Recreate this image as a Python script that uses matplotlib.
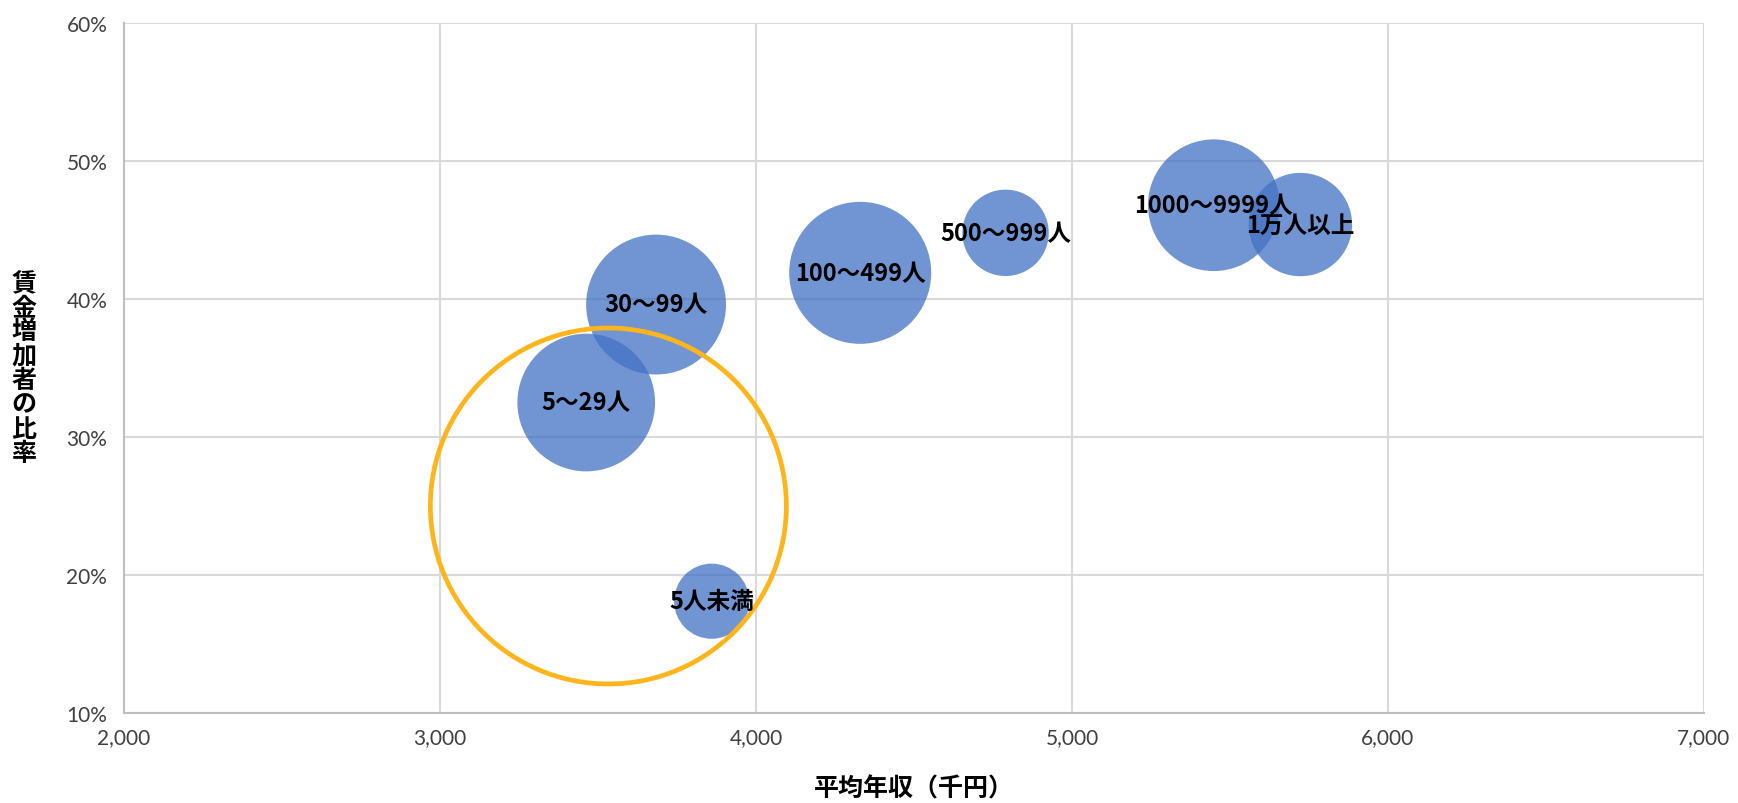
import matplotlib.pyplot as plt
import numpy as np
from matplotlib.patches import Ellipse
from matplotlib.ticker import FuncFormatter

plt.rcParams['font.family'] = ['Noto Sans CJK JP', 'DejaVu Sans']

DPI = 100

# 事業所規模別：平均年収と賃金増加者の比率
LABELS = ['5人未満', '5～29人', '30～99人', '100～499人',
          '500～999人', '1000～9999人', '1万人以上']
INCOME = [3860, 3463, 3684, 4330, 4790, 5449, 5723]      # 千円
RATIO = [18.1, 32.5, 39.6, 41.9, 44.8, 46.8, 45.4]       # %
BUBBLE = [28, 94, 97, 100, 37, 86, 53]                   # バブルの大きさ

XTICKS = [2000, 3000, 4000, 5000, 6000, 7000]
YTICKS = [10, 20, 30, 40, 50, 60]

# 小規模事業所を囲む円
HL_CENTER = (3533, 25.0)
HL_RADIUS_PX = 178

BLUE = '#4472C4'
ORANGE = '#FDB51B'
MAX_R_PX = 71

fig = plt.figure(figsize=(1738 / DPI, 804 / DPI), dpi=DPI)
fig.subplots_adjust(left=0.0713, right=0.9804, top=0.970, bottom=0.112)
ax = fig.add_subplot(111)

ax.set_xlim(XTICKS[0], XTICKS[-1])
ax.set_ylim(YTICKS[0], YTICKS[-1])

r_px = MAX_R_PX * np.sqrt(np.array(BUBBLE) / max(BUBBLE))
sizes = (2 * r_px * 72 / DPI) ** 2
ax.scatter(INCOME, RATIO, s=sizes, color=BLUE, alpha=0.76,
           edgecolors='none', zorder=3)

for x, y, lab in zip(INCOME, RATIO, LABELS):
    ax.text(x, y, lab, ha='center', va='center', fontsize=17,
            fontweight='bold', color='black', zorder=5)

# ピクセル単位の半径をデータ座標に換算して円を描く
ax_w = fig.get_figwidth() * DPI * (0.9804 - 0.0713)
ax_h = fig.get_figheight() * DPI * (0.970 - 0.112)
w = 2 * HL_RADIUS_PX * (XTICKS[-1] - XTICKS[0]) / ax_w
h = 2 * HL_RADIUS_PX * (YTICKS[-1] - YTICKS[0]) / ax_h
ax.add_patch(Ellipse(HL_CENTER, w, h, fill=False, edgecolor=ORANGE,
                     linewidth=3.4, zorder=4))

ax.set_xticks(XTICKS)
ax.set_yticks(YTICKS)
ax.xaxis.set_major_formatter(FuncFormatter(lambda v, p: f'{v:,.0f}'))
ax.yaxis.set_major_formatter(FuncFormatter(lambda v, p: f'{v:.0f}%'))
ax.tick_params(length=0, labelsize=15, labelcolor='#404040')
ax.tick_params(axis='x', pad=10)
ax.tick_params(axis='y', pad=12)
for t in ax.get_xticklabels() + ax.get_yticklabels():
    t.set_family(['Lato', 'DejaVu Sans'])

ax.grid(True, color='#D9D9D9', linewidth=1.5, zorder=0)
ax.set_axisbelow(True)
for side in ['top', 'right']:
    ax.spines[side].set_visible(False)
for side in ['left', 'bottom']:
    ax.spines[side].set_color('#BFBFBF')
    ax.spines[side].set_linewidth(1.5)

ax.set_xlabel('平均年収（千円）', fontsize=18, fontweight='bold', labelpad=21)
ax.set_ylabel('\n'.join('賃金増加者の比率'), fontsize=18, fontweight='bold',
              rotation=0, ha='center', va='center', linespacing=1.02)
ax.yaxis.set_label_coords(-100 / 1580, 0.5)

fig.savefig('out.png', dpi=DPI)
